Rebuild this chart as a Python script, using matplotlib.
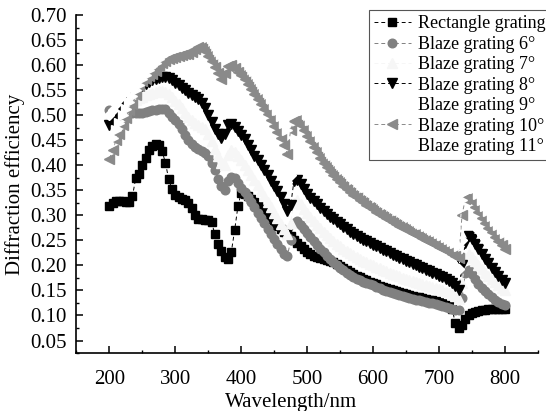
import numpy as np
import matplotlib
matplotlib.use("Agg")
import matplotlib.pyplot as plt
from matplotlib.ticker import MultipleLocator, FormatStrFormatter

plt.rcParams['font.family'] = ['Liberation Serif', 'DejaVu Serif']

wavelength = np.arange(200, 805, 5)

rect = [0.318,0.325,0.328,0.328,0.328,0.326,0.327,0.338,0.375,0.383,0.400,0.415,0.430,0.438,0.442,0.440,0.428,0.405,0.372,0.352,
        0.340,0.336,0.333,0.330,0.325,0.315,0.300,0.293,0.292,0.291,0.290,0.287,0.262,0.243,0.228,0.217,0.213,0.227,0.270,0.318,
        0.345,0.342,0.338,0.333,0.327,0.320,0.313,0.306,0.299,0.292,0.285,0.278,0.272,0.266,0.262,0.258,0.251,0.244,0.238,0.232,
        0.226,0.222,0.219,0.216,0.214,0.212,0.210,0.208,0.206,0.202,0.199,0.195,0.191,0.187,0.183,0.179,0.176,0.173,0.170,0.167,
        0.165,0.162,0.159,0.157,0.155,0.153,0.151,0.149,0.147,0.145,0.143,0.141,0.139,0.137,0.136,0.134,0.133,0.131,0.130,0.128,
        0.127,0.124,0.121,0.118,0.112,0.085,0.076,0.082,0.093,0.100,0.104,0.107,0.109,0.110,0.111,0.112,0.112,0.112,0.112,0.112,0.112]

blaze6 = [0.510,0.505,0.500,0.500,0.502,0.503,0.505,0.505,0.505,0.505,0.505,0.506,0.508,0.510,0.510,0.512,0.513,0.512,0.505,0.497,
          0.490,0.482,0.472,0.460,0.450,0.442,0.437,0.433,0.428,0.424,0.418,0.405,0.390,0.373,0.358,0.350,0.368,0.376,0.374,0.365,
          0.355,0.346,0.336,0.326,0.316,0.305,0.295,0.284,0.273,0.262,0.252,0.242,0.232,0.222,0.218,0.250,0.285,0.288,0.280,0.273,
          0.265,0.257,0.249,0.241,0.233,0.226,0.219,0.212,0.206,0.200,0.195,0.190,0.185,0.181,0.177,0.173,0.170,0.167,0.164,0.162,
          0.160,0.157,0.154,0.151,0.149,0.147,0.145,0.143,0.141,0.139,0.137,0.135,0.133,0.131,0.130,0.128,0.127,0.125,0.124,0.122,
          0.121,0.119,0.117,0.115,0.113,0.111,0.110,0.135,0.185,0.190,0.183,0.172,0.163,0.155,0.148,0.142,0.136,0.131,0.127,0.123,0.120]

blaze7 = [0.495,0.500,0.505,0.510,0.515,0.520,0.524,0.528,0.531,0.534,0.537,0.540,0.543,0.545,0.547,0.548,0.548,0.546,0.542,0.536,
          0.529,0.522,0.514,0.505,0.497,0.490,0.485,0.481,0.477,0.472,0.462,0.448,0.433,0.418,0.405,0.400,0.420,0.430,0.427,0.419,
          0.410,0.401,0.391,0.381,0.370,0.360,0.349,0.338,0.327,0.316,0.305,0.294,0.283,0.272,0.262,0.285,0.325,0.330,0.322,0.313,
          0.305,0.297,0.289,0.281,0.274,0.267,0.261,0.255,0.249,0.243,0.238,0.233,0.228,0.224,0.220,0.216,0.212,0.209,0.206,0.203,
          0.200,0.197,0.194,0.191,0.188,0.185,0.183,0.180,0.178,0.175,0.173,0.171,0.168,0.166,0.164,0.162,0.160,0.158,0.156,0.154,
          0.152,0.150,0.147,0.145,0.142,0.138,0.132,0.165,0.215,0.222,0.216,0.208,0.200,0.192,0.185,0.178,0.172,0.166,0.160,0.155,0.150]

blaze8 = [0.480,0.490,0.500,0.510,0.520,0.530,0.538,0.545,0.550,0.555,0.558,0.562,0.566,0.570,0.573,0.575,0.576,0.576,0.575,0.570,
          0.565,0.560,0.555,0.550,0.545,0.540,0.536,0.532,0.525,0.515,0.500,0.487,0.473,0.462,0.455,0.462,0.480,0.483,0.477,0.469,
          0.461,0.452,0.441,0.430,0.419,0.410,0.400,0.390,0.380,0.369,0.358,0.348,0.337,0.322,0.309,0.320,0.368,0.370,0.362,0.352,
          0.343,0.335,0.328,0.322,0.315,0.309,0.303,0.297,0.292,0.287,0.282,0.277,0.272,0.267,0.263,0.259,0.255,0.251,0.248,0.245,
          0.241,0.238,0.234,0.231,0.228,0.224,0.221,0.218,0.215,0.212,0.209,0.206,0.203,0.200,0.197,0.194,0.191,0.188,0.185,0.182,
          0.179,0.176,0.172,0.168,0.164,0.158,0.150,0.200,0.245,0.258,0.252,0.243,0.233,0.223,0.213,0.204,0.195,0.187,0.179,0.171,0.165]

blaze9 = [0.500,0.510,0.522,0.532,0.542,0.550,0.557,0.563,0.568,0.573,0.578,0.583,0.588,0.592,0.596,0.598,0.600,0.601,0.601,0.600,
          0.598,0.595,0.592,0.589,0.586,0.583,0.580,0.576,0.572,0.566,0.558,0.548,0.536,0.523,0.512,0.510,0.532,0.540,0.536,0.528,
          0.520,0.511,0.501,0.491,0.481,0.471,0.460,0.449,0.438,0.427,0.416,0.404,0.392,0.380,0.366,0.380,0.425,0.430,0.421,0.411,
          0.401,0.392,0.383,0.374,0.366,0.358,0.350,0.343,0.336,0.330,0.324,0.318,0.313,0.308,0.303,0.298,0.294,0.290,0.286,0.282,
          0.278,0.274,0.271,0.267,0.264,0.260,0.257,0.254,0.251,0.248,0.245,0.242,0.239,0.236,0.233,0.230,0.228,0.225,0.222,0.220,
          0.217,0.214,0.211,0.208,0.204,0.199,0.192,0.250,0.290,0.297,0.290,0.280,0.270,0.261,0.252,0.244,0.236,0.229,0.222,0.215,0.209]

blaze10 = [0.413,0.430,0.450,0.462,0.480,0.495,0.510,0.522,0.540,0.558,0.568,0.573,0.578,0.583,0.588,0.598,0.604,0.609,0.613,0.615,
           0.617,0.619,0.621,0.622,0.623,0.626,0.632,0.636,0.636,0.628,0.618,0.608,0.597,0.585,0.573,0.585,0.598,0.600,0.595,0.587,
           0.580,0.572,0.563,0.553,0.543,0.533,0.523,0.512,0.502,0.490,0.479,0.467,0.455,0.440,0.423,0.470,0.488,0.490,0.481,0.470,
           0.459,0.448,0.437,0.426,0.415,0.405,0.396,0.388,0.380,0.373,0.366,0.359,0.353,0.347,0.341,0.336,0.331,0.326,0.321,0.316,
           0.312,0.307,0.303,0.299,0.295,0.291,0.287,0.283,0.279,0.276,0.272,0.269,0.265,0.262,0.258,0.255,0.251,0.248,0.244,0.241,
           0.237,0.234,0.230,0.226,0.222,0.218,0.214,0.300,0.333,0.337,0.328,0.317,0.306,0.295,0.285,0.275,0.266,0.257,0.249,0.241,0.233]

blaze11 = [0.440,0.455,0.470,0.485,0.500,0.513,0.526,0.538,0.550,0.561,0.572,0.581,0.590,0.598,0.605,0.612,0.618,0.624,0.629,0.634,
           0.639,0.644,0.649,0.653,0.657,0.661,0.664,0.667,0.669,0.668,0.662,0.654,0.644,0.633,0.622,0.632,0.645,0.648,0.643,0.635,
           0.627,0.618,0.609,0.599,0.589,0.579,0.568,0.557,0.546,0.535,0.523,0.511,0.499,0.485,0.470,0.510,0.530,0.533,0.524,0.513,
           0.502,0.491,0.480,0.469,0.458,0.448,0.438,0.429,0.421,0.413,0.405,0.398,0.391,0.384,0.378,0.372,0.366,0.361,0.356,0.351,
           0.346,0.341,0.336,0.331,0.327,0.322,0.318,0.314,0.310,0.306,0.302,0.298,0.294,0.290,0.287,0.283,0.279,0.276,0.272,0.268,
           0.265,0.261,0.257,0.253,0.249,0.244,0.239,0.330,0.370,0.375,0.366,0.354,0.342,0.330,0.319,0.309,0.299,0.289,0.280,0.272,0.264]

labels = ["Rectangle grating", "Blaze grating 6°", "Blaze grating 7°", "Blaze grating 8°",
          "Blaze grating 9°", "Blaze grating 10°", "Blaze grating 11°"]

series = [rect, blaze6, blaze7, blaze8, blaze9, blaze10, blaze11]
colors = ['#000000', '#808080', '#f6f6f6', '#000000', '#ffffff', '#8a8a8a', '#ffffff']
markers = ['s', 'o', '^', 'v', 'D', '<', '>']
msizes = [5.5, 6.2, 6.5, 6.5, 5.5, 6.8, 6.5]

fig = plt.figure(figsize=(5.46, 4.11), dpi=100)
ax = fig.add_axes([0.140, 0.141, 0.845, 0.8225])

for vals, c, m, ms, lab in zip(series, colors, markers, msizes, labels):
    ax.plot(wavelength, vals, color=c, marker=m, markersize=ms, markeredgecolor=c,
            markerfacecolor=c, linestyle=(0, (4, 3)), linewidth=0.7, label=lab)

ax.set_xlim(150, 850)
ax.set_ylim(0.025, 0.70)
ax.xaxis.set_major_locator(MultipleLocator(100))
ax.xaxis.set_minor_locator(MultipleLocator(50))
ax.yaxis.set_minor_locator(MultipleLocator(0.025))
ax.yaxis.set_major_formatter(FormatStrFormatter('%.2f'))
ax.set_yticks(np.arange(0.05, 0.701, 0.05))

for s in ['top', 'right']:
    ax.spines[s].set_visible(False)
for s in ['left', 'bottom']:
    ax.spines[s].set_linewidth(1.2)

ax.tick_params(which='major', direction='in', length=5, width=1.1, labelsize=15, pad=7)
ax.tick_params(which='minor', direction='in', length=2.5, width=1.0)
ax.tick_params(axis='x', which='major', pad=12)

ax.set_xlabel('Wavelength/nm', fontsize=15)
ax.xaxis.set_label_coords(0.466, -0.118)
ax.set_ylabel('Diffraction efficiency', fontsize=15, labelpad=4)

leg = fig.legend(loc='upper left', bbox_to_anchor=(369/546, 1 - 10/411),
                 bbox_transform=fig.transFigure, fontsize=13, frameon=True,
                 fancybox=False, edgecolor='#555555', framealpha=1,
                 handlelength=2.0, handletextpad=0.4, labelspacing=0.19,
                 borderpad=0.3, borderaxespad=0)
leg.get_frame().set_linewidth(0.8)

fig.savefig('out.png', dpi=100)
